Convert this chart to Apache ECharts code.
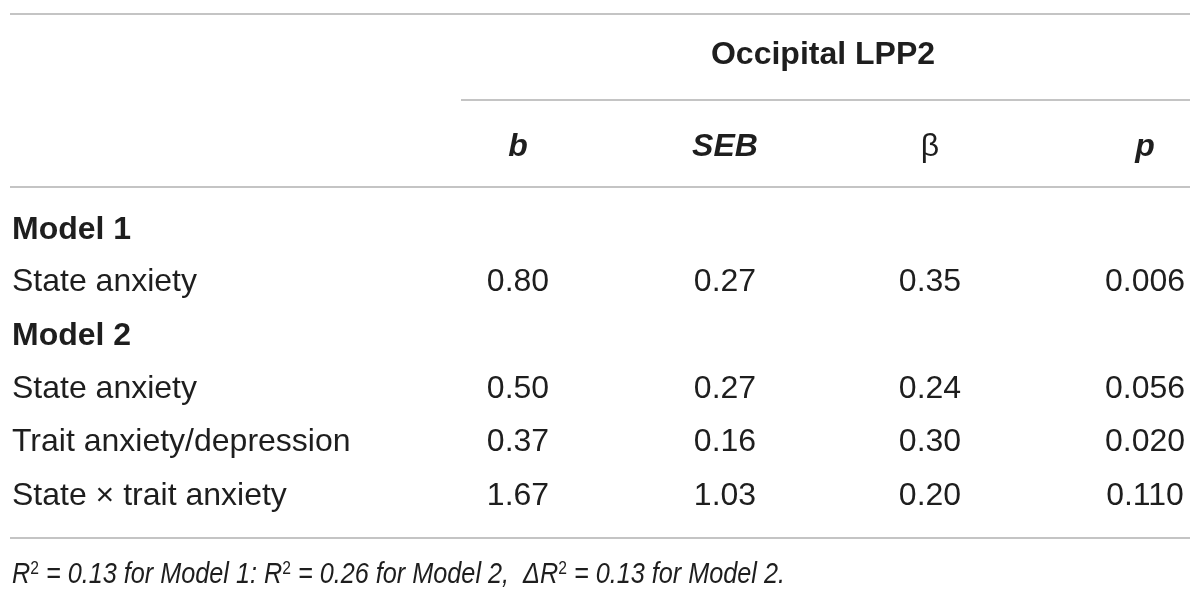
<!DOCTYPE html>
<html style="height: 100%">
<head>
<meta charset="utf-8">
</head>
<body style="height: 100%; margin: 0; background: #fff">
<div id="container" style="width: 1200px; height: 606px"></div>
<script src="https://cdn.jsdelivr.net/npm/echarts@6/dist/echarts.min.js"></script>
<script>
// table content
var spanTitle = 'Occipital LPP2';
var colHeads = ['b', 'SEB', 'β', 'p'];
var rowLabels = ['Model 1', 'State anxiety', 'Model 2', 'State anxiety', 'Trait anxiety/depression', 'State × trait anxiety'];
var rowIsGroup = [true, false, true, false, false, false];
var bVals = [null, 0.80, null, 0.50, 0.37, 1.67];
var sebVals = [null, 0.27, null, 0.27, 0.16, 1.03];
var betaVals = [null, 0.35, null, 0.24, 0.30, 0.20];
var pVals = [null, 0.006, null, 0.056, 0.020, 0.110];
var footR2 = [0.13, 0.26, 0.13];

// layout (pixels of the 1200x606 page)
var colX = [518, 725, 930, 1145];
var rowY = [230, 282, 336, 389, 442, 496];
var FONT = '"Liberation Sans", Arial, sans-serif';
var FS = 32;
var INK = '#1e1e1e';
var RULE = '#c4c4c4';

var cells = [];
cells.push({ value: [823, 55], text: spanTitle, bold: true, italic: false, align: 'center' });
colHeads.forEach(function (h, j) {
	cells.push({ value: [colX[j], 147], text: h, bold: h !== 'β', italic: h !== 'β', align: 'center' });
});
rowLabels.forEach(function (lab, i) {
	cells.push({ value: [12, rowY[i]], text: lab, bold: rowIsGroup[i], italic: false, align: 'left' });
	if (rowIsGroup[i]) return;
	var vals = [bVals[i].toFixed(2), sebVals[i].toFixed(2), betaVals[i].toFixed(2), pVals[i].toFixed(3)];
	vals.forEach(function (v, j) {
		cells.push({ value: [colX[j], rowY[i]], text: v, bold: false, italic: false, align: 'center' });
	});
});

var rules = [
	[10, 1190, 14],
	[461, 1190, 100],
	[10, 1190, 187],
	[10, 1190, 538]
];

var foot = '{t|R}{s|2}{t| = ' + footR2[0].toFixed(2) + ' for Model 1: R}{s|2}{t| = ' + footR2[1].toFixed(2) +
	' for Model 2,  ΔR}{s|2}{t| = ' + footR2[2].toFixed(2) + ' for Model 2.}';

var myChart = echarts.init(document.getElementById('container'));
var option = {
	animation: false,
	grid: { left: 0, right: 0, top: 0, bottom: 0 },
	xAxis: { type: 'value', min: 0, max: 1200, show: false },
	yAxis: { type: 'value', min: 0, max: 606, inverse: true, show: false },
	series: [
		{
			type: 'custom',
			data: rules,
			renderItem: function (params, api) {
				var a = api.coord([api.value(0), api.value(2)]);
				var b = api.coord([api.value(1), api.value(2)]);
				return {
					type: 'line',
					shape: { x1: a[0], y1: a[1], x2: b[0], y2: b[1] },
					style: { stroke: RULE, lineWidth: 2 }
				};
			}
		},
		{
			type: 'custom',
			data: cells,
			renderItem: function (params, api) {
				var c = cells[params.dataIndex];
				var p = api.coord(c.value);
				return {
					type: 'text',
					style: {
						text: c.text, x: p[0], y: p[1],
						align: c.align, verticalAlign: 'middle',
						fill: INK, fontFamily: FONT, fontSize: FS,
						fontWeight: c.bold ? 'bold' : 'normal',
						fontStyle: c.italic ? 'italic' : 'normal'
					}
				};
			}
		},
		{
			// footnote, squeezed a bit to mimic the condensed italic of the source
			type: 'custom',
			data: [[12, 575]],
			renderItem: function (params, api) {
				var p = api.coord([api.value(0), api.value(1)]);
				return {
					type: 'text',
					x: p[0], y: p[1], scaleX: 0.87,
					style: {
						text: foot, x: 0, y: 0,
						align: 'left', verticalAlign: 'middle',
						fill: INK, fontFamily: FONT,
						rich: {
							t: { fontSize: 29, fontStyle: 'italic', fontFamily: FONT, fill: INK, verticalAlign: 'bottom' },
							s: { fontSize: 18, fontFamily: FONT, fill: INK, verticalAlign: 'top' }
						}
					}
				};
			}
		}
	]
};
myChart.setOption(option);
</script>
</body>
</html>
